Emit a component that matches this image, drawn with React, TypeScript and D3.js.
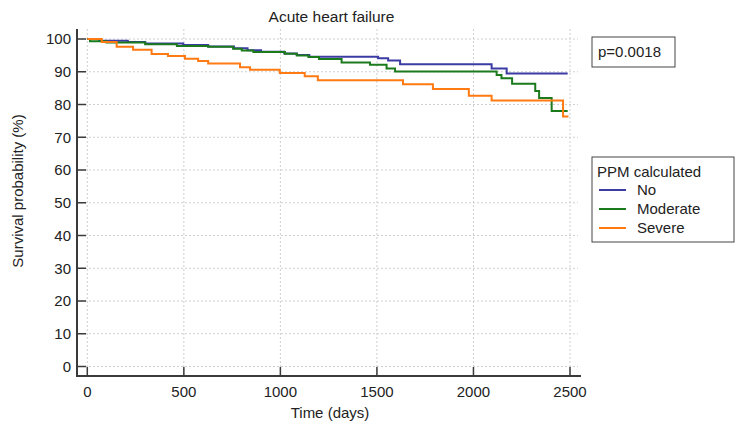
import React from 'react';
import * as d3 from 'd3';

// Kaplan-Meier steps (time in days, survival %)
const noTimes = [0, 60, 210, 300, 497, 626, 760, 830, 900, 1020, 1085, 1150, 1506, 1558, 1620, 2094, 2172, 2488];
const noSurv = [100, 99.5, 99.1, 98.6, 98.2, 97.7, 97.2, 96.6, 96.1, 95.6, 95.1, 94.6, 94.1, 93.4, 92.3, 91.0, 89.5, 89.5];

const modTimes = [0, 14, 100, 300, 464, 626, 755, 800, 860, 1024, 1085, 1145, 1200, 1317, 1464, 1550, 1594, 2120, 2145, 2200, 2320, 2340, 2405, 2488];
const modSurv = [100, 99.3, 98.9, 98.4, 97.9, 97.6, 97.0, 96.5, 96.0, 95.5, 95.0, 94.5, 93.9, 92.8, 92.1, 91.0, 90.1, 89.0, 88.0, 86.3, 84.1, 82.0, 78.0, 78.0];

const sevTimes = [0, 75, 152, 237, 333, 418, 506, 574, 626, 791, 843, 997, 1126, 1194, 1635, 1790, 1976, 2094, 2464, 2492];
const sevSurv = [100, 99.1, 97.6, 96.7, 95.4, 94.8, 94.0, 93.3, 92.5, 91.4, 90.6, 89.6, 88.6, 87.4, 86.2, 84.7, 82.7, 81.2, 76.3, 76.3];

const groupNames = ['No', 'Moderate', 'Severe'];
const groupColors = ['#3b3ba3', '#1b7a1b', '#ff7a12'];
const xTicks = [0, 500, 1000, 1500, 2000, 2500];
const yTicks = [0, 10, 20, 30, 40, 50, 60, 70, 80, 90, 100];

const W = 736;
const H = 427;
const font = '"Liberation Sans", Arial, sans-serif';
const fs = 15;

export default function App() {
  const x = d3.scaleLinear().domain([0, 2500]).range([87.3, 570]);
  const y = d3.scaleLinear().domain([0, 100]).range([366.5, 39]);
  const axisX = 77;
  const axisY = 376;
  const left = 77;
  const right = 581;
  const top = 29;

  const series = [
    { t: noTimes, s: noSurv },
    { t: modTimes, s: modSurv },
    { t: sevTimes, s: sevSurv },
  ];

  const line = d3
    .line<[number, number]>()
    .x((d) => x(d[0]))
    .y((d) => y(d[1]))
    .curve(d3.curveStepAfter);

  return (
    <svg width={W} height={H} style={{ display: 'block', position: 'absolute', left: 0, top: 0 }} fontFamily={font}>
      <rect width={W} height={H} fill="#fff" />
      <text x={331.5} y={22} textAnchor="middle" fontSize={15.5} fill="#222">
        Acute heart failure
      </text>

      {/* grid */}
      {yTicks.map((v) => (
        <line key={`gy${v}`} x1={left} x2={right - 3} y1={y(v)} y2={y(v)} stroke="#cfcfcf" strokeDasharray="2,2" />
      ))}
      {xTicks.map((v) => (
        <line key={`gx${v}`} x1={x(v)} x2={x(v)} y1={top} y2={axisY} stroke="#cfcfcf" strokeDasharray="2,2" />
      ))}

      {/* curves */}
      {series.map((d, i) => (
        <path
          key={groupNames[i]}
          d={line(d.t.map((t, j) => [t, d.s[j]] as [number, number])) || ''}
          fill="none"
          stroke={groupColors[i]}
          strokeWidth={2}
        />
      ))}

      {/* axes */}
      <line x1={axisX} x2={axisX} y1={top} y2={axisY + 1} stroke="#3a3a3a" strokeWidth={2} />
      <line x1={axisX - 1} x2={right} y1={axisY} y2={axisY} stroke="#3a3a3a" strokeWidth={2} />
      {yTicks.map((v) => (
        <g key={`ty${v}`}>
          <line x1={axisX} x2={axisX + 9} y1={y(v)} y2={y(v)} stroke="#3a3a3a" strokeWidth={1.5} />
          <text x={axisX - 6} y={y(v) + 5.3} textAnchor="end" fontSize={fs} fill="#222">
            {v}
          </text>
        </g>
      ))}
      {xTicks.map((v) => (
        <g key={`tx${v}`}>
          <line x1={x(v)} x2={x(v)} y1={axisY} y2={axisY - 9} stroke="#3a3a3a" strokeWidth={1.5} />
          <text x={x(v)} y={axisY + 21} textAnchor="middle" fontSize={fs} fill="#222">
            {v}
          </text>
        </g>
      ))}
      <text x={330} y={418} textAnchor="middle" fontSize={fs} fill="#222">
        Time (days)
      </text>
      <text transform={`translate(23,191) rotate(-90)`} textAnchor="middle" fontSize={fs} fill="#222">
        Survival probability (%)
      </text>

      {/* p-value */}
      <rect x={592} y={37} width={83} height={30} fill="#fff" stroke="#444" />
      <text x={598} y={56.5} fontSize={fs} fill="#222">
        p=0.0018
      </text>

      {/* legend */}
      <rect x={592} y={157} width={142} height={85} fill="#fff" stroke="#444" />
      <text x={597} y={177} fontSize={fs} fill="#222">
        PPM calculated
      </text>
      {groupNames.map((n, i) => (
        <g key={`lg${n}`}>
          <line x1={599} x2={626} y1={190 + i * 19} y2={190 + i * 19} stroke={groupColors[i]} strokeWidth={2} />
          <text x={637} y={195 + i * 19} fontSize={fs} fill="#222">
            {n}
          </text>
        </g>
      ))}
    </svg>
  );
}
